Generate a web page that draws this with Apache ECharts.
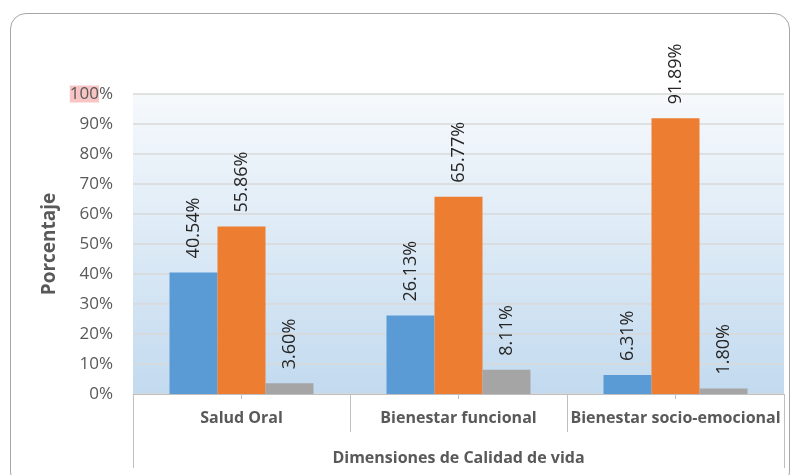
<!DOCTYPE html>
<html>
<head>
<meta charset="utf-8">
<script src="https://cdn.jsdelivr.net/npm/echarts@6/dist/echarts.min.js"></script>
<style>
  html, body { margin: 0; padding: 0; background: #fff; }
  #frame {
    position: absolute; left: 10px; top: 13px; width: 780px; height: 475px;
    border: 1.5px solid #A6A6A6; border-radius: 16px; box-sizing: border-box;
  }
  #chart { position: absolute; left: 0; top: 0; width: 796px; height: 475px; }
</style>
</head>
<body>
<div id="frame"></div>
<div id="chart"></div>
<script>
const categories = ['Salud Oral', 'Bienestar funcional', 'Bienestar socio-emocional'];
const serieA = [40.54, 26.13, 6.31];
const serieB = [55.86, 65.77, 91.89];
const serieC = [3.60, 8.11, 1.80];
const colors = ['#5B9BD5', '#ED7D31', '#A5A5A5'];

const font = '"Open Sans", "Liberation Sans", sans-serif';

function barSeries(name, data, color) {
  return {
    name: name,
    type: 'bar',
    data: data,
    barWidth: 48,
    barGap: '0%',
    itemStyle: { color: color },
    label: {
      show: true,
      position: 'top',
      rotate: 90,
      align: 'left',
      verticalAlign: 'middle',
      distance: 14,
      color: '#262626',
      fontSize: 18,
      fontFamily: font,
      formatter: p => p.value.toFixed(2) + '%'
    }
  };
}

const chart = echarts.init(document.getElementById('chart'));
chart.setOption({
  animation: false,
  grid: {
    left: 133, right: 12, top: 94, bottom: 81,
    show: true,
    borderWidth: 0,
    backgroundColor: new echarts.graphic.LinearGradient(0, 0, 0, 1, [
      { offset: 0, color: '#F6F9FC' },
      { offset: 1, color: '#C2DAEF' }
    ])
  },
  xAxis: [
    {
      type: 'category',
      data: categories,
      position: 'bottom',
      axisLine: { show: true, lineStyle: { color: '#BFBFBF', width: 1 } },
      axisTick: { show: true, alignWithLabel: false, interval: 0, length: 38, lineStyle: { color: '#BFBFBF' } },
      axisLabel: { interval: 0, margin: 16, color: '#595959', fontSize: 16, fontWeight: 'bold', fontFamily: font },
      name: 'Dimensiones de Calidad de vida',
      nameLocation: 'middle',
      nameGap: 56,
      nameTextStyle: { color: '#595959', fontSize: 16, fontWeight: 'bold', fontFamily: font }
    },
    {
      type: 'category',
      data: categories,
      position: 'bottom',
      axisLine: { show: false },
      axisTick: { show: true, alignWithLabel: true, interval: 0, length: 5, lineStyle: { color: '#BFBFBF' } },
      axisLabel: { show: false }
    },
    {
      type: 'category',
      data: [''],
      position: 'bottom',
      axisLine: { show: false },
      axisTick: { show: true, interval: 0, length: 74, lineStyle: { color: '#BFBFBF' } },
      axisLabel: { show: false }
    }
  ],
  yAxis: {
    type: 'value',
    min: 0,
    max: 100,
    interval: 10,
    name: 'Porcentaje',
    nameLocation: 'middle',
    nameGap: 72,
    nameTextStyle: { color: '#595959', fontSize: 19, fontWeight: 'bold', fontFamily: font },
    axisLine: { show: false },
    axisTick: { show: false },
    axisLabel: {
      margin: 20,
      color: '#595959',
      fontSize: 17,
      fontFamily: font,
      formatter: v => v === 100 ? '{h|100}%' : v + '%',
      rich: {
        h: { color: '#595959', fontSize: 17, fontFamily: font, backgroundColor: '#F8C4C4' }
      }
    },
    splitLine: { lineStyle: { color: '#D9D9D9', width: 1.5 } }
  },
  series: [
    barSeries('A', serieA, colors[0]),
    barSeries('B', serieB, colors[1]),
    barSeries('C', serieC, colors[2])
  ]
});
</script>
</body>
</html>
